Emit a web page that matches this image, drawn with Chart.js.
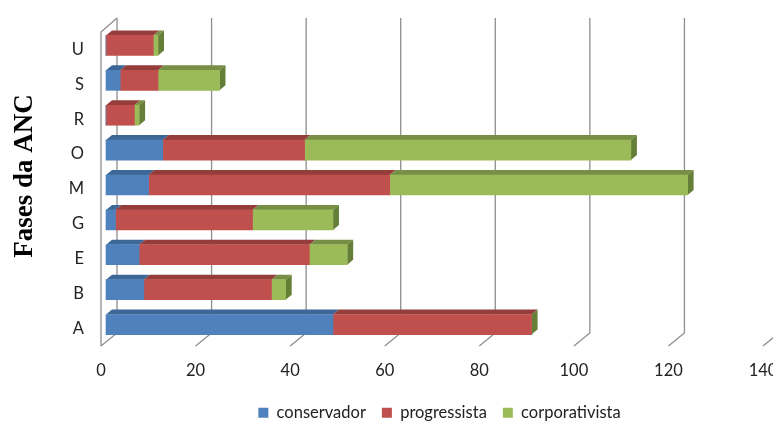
<!DOCTYPE html>
<html>
<head>
<meta charset="utf-8">
<title>Fases da ANC</title>
<script src="https://cdn.jsdelivr.net/npm/chart.js@4"></script>
<style>
  html, body { margin: 0; padding: 0; background: #fff; }
  canvas { display: block; }
</style>
</head>
<body>
<canvas id="myChart" width="773" height="421"></canvas>
<script>
var fases = ['U', 'S', 'R', 'O', 'M', 'G', 'E', 'B', 'A'];
var conservador = [0, 3, 0, 12, 9, 2, 7, 8, 48];
var progressista = [10, 8, 6, 30, 51, 29, 36, 27, 42];
var corporativista = [1, 13, 1, 69, 63, 17, 8, 3, 0];
var xTicks = [0, 20, 40, 60, 80, 100, 120, 140];

var fontName = 'Lato, Carlito, "Open Sans", sans-serif';
var frontColors = ['#4f81bd', '#c0504d', '#9bbb59'];
var topColors = ['#3d6796', '#943d3b', '#768f44'];
var sideColor = '#667f38';
var wallColor = '#8e8e8e';

// back wall offset and bar offset, the picture is a fake 3d one
var wall = { dx: 16, dy: 13, top: 18 };
var bar = { dx: 5, dy: 4, depthX: 6, depthY: 5 };

function poly(c, pts, color) {
    c.fillStyle = color;
    c.beginPath();
    c.moveTo(pts[0][0], pts[0][1]);
    for (var i = 1; i < pts.length; i++) c.lineTo(pts[i][0], pts[i][1]);
    c.closePath();
    c.fill();
}

var depthPlugin = {
    id: 'depth',
    afterLayout: function (chart) {
        // legend sits right of the canvas centre and low on the page
        chart.legend.left = 116;
        chart.legend.top += 10;
        chart.legend.bottom += 10;
    },
    beforeDatasetsDraw: function (chart) {
        var c = chart.ctx;
        var area = chart.chartArea;
        var x = chart.scales.x;

        // walls
        c.save();
        c.strokeStyle = wallColor;
        c.lineWidth = 1.3;
        xTicks.forEach(function (t) {
            var px = x.getPixelForValue(t);
            c.beginPath();
            c.moveTo(px, area.bottom);
            c.lineTo(px + wall.dx, area.bottom - wall.dy);
            c.lineTo(px + wall.dx, wall.top);
            c.stroke();
        });
        c.beginPath();
        c.moveTo(area.left, area.bottom);
        c.lineTo(area.left, area.top);
        c.lineTo(area.left + wall.dx, wall.top);
        c.stroke();
        c.restore();

        // tops and end caps, fronts come from the chart itself
        c.save();
        c.translate(bar.dx, -bar.dy);
        chart.data.datasets.forEach(function (ds, i) {
            chart.getDatasetMeta(i).data.forEach(function (el) {
                var p = el.getProps(['x', 'y', 'base', 'height'], true);
                var yTop = p.y - p.height / 2;
                var yBot = p.y + p.height / 2;
                if (p.x > p.base) {
                    poly(c, [[p.base, yTop], [p.x, yTop],
                        [p.x + bar.depthX, yTop - bar.depthY],
                        [p.base + bar.depthX, yTop - bar.depthY]], topColors[i]);
                }
                if (i === chart.data.datasets.length - 1) {
                    poly(c, [[p.x, yTop], [p.x + bar.depthX, yTop - bar.depthY],
                        [p.x + bar.depthX, yBot - bar.depthY], [p.x, yBot]], sideColor);
                }
            });
        });
    },
    afterDatasetsDraw: function (chart) {
        chart.ctx.restore();
    },
    afterDraw: function (chart) {
        var c = chart.ctx;
        c.save();
        c.translate(25, 176);
        c.rotate(-Math.PI / 2);
        c.font = 'bold 27px "Liberation Serif"';
        c.fillStyle = '#000';
        c.textAlign = 'center';
        c.textBaseline = 'middle';
        c.fillText('Fases da ANC', 0, 0);
        c.restore();
    }
};

var ctx = document.getElementById('myChart').getContext('2d');
var myChart = new Chart(ctx, {
    type: 'bar',
    data: {
        labels: fases,
        datasets: [
            { label: 'conservador', data: conservador, backgroundColor: frontColors[0] },
            { label: 'progressista', data: progressista, backgroundColor: frontColors[1] },
            { label: 'corporativista', data: corporativista, backgroundColor: frontColors[2] }
        ]
    },
    plugins: [depthPlugin],
    options: {
        indexAxis: 'y',
        responsive: false,
        animation: false,
        clip: false,
        barThickness: 20,
        layout: { padding: { top: 32, left: 0, right: 10, bottom: 0 } },
        plugins: {
            tooltip: { enabled: false },
            legend: {
                position: 'bottom',
                labels: {
                    boxWidth: 10,
                    boxHeight: 10,
                    padding: 16,
                    color: '#222',
                    font: { family: fontName, size: 16.5 }
                }
            }
        },
        scales: {
            x: {
                stacked: true,
                min: 0,
                max: 140,
                grid: { display: false },
                border: { display: false },
                ticks: {
                    stepSize: 20,
                    maxRotation: 0,
                    autoSkip: false,
                    padding: 7,
                    color: '#222',
                    font: { family: fontName, size: 16.5 }
                },
                afterFit: function (s) {
                    s.paddingRight = 0;
                    s.height = 421 - 346 - s.chart.legend.height;
                }
            },
            y: {
                stacked: true,
                grid: { display: false },
                border: { display: false },
                ticks: {
                    padding: 9,
                    color: '#222',
                    font: { family: fontName, size: 16.5 }
                },
                afterFit: function (s) {
                    s.width = 101;
                }
            }
        }
    }
});
</script>
</body>
</html>
